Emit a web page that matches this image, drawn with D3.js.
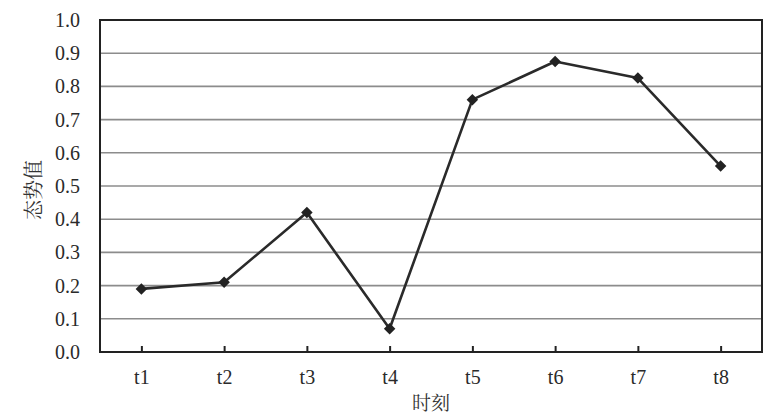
<!DOCTYPE html>
<html><head><meta charset="utf-8">
<script src="https://cdn.jsdelivr.net/npm/d3@7"></script>
<style>body{margin:0;background:#fff}</style>
</head><body><svg id="c" width="776" height="420"></svg>
<script>
const categories = ["t1","t2","t3","t4","t5","t6","t7","t8"];
const values = [0.19,0.21,0.42,0.07,0.76,0.875,0.825,0.56];
const yTicks = [0,0.1,0.2,0.3,0.4,0.5,0.6,0.7,0.8,0.9,1.0];
const xTitle = "时刻", yTitle = "态势值";

const svg = d3.select("#c");
const L=100,R=762,T=20,B=352;
const x = d3.scalePoint().domain(categories).range([L,R]).padding(0.5);
const y = d3.scaleLinear().domain([0,1]).range([B,T]);
const SERIF = "Liberation Serif";
const CJK = "Noto Serif CJK SC";

svg.append("g").selectAll("line").data(yTicks.filter(d=>d>0&&d<1)).join("line")
  .attr("x1",L).attr("x2",R).attr("y1",d=>y(d)).attr("y2",d=>y(d))
  .attr("stroke","#8c8c8c").attr("stroke-width",1.6);

svg.append("rect").attr("x",L).attr("y",T).attr("width",R-L).attr("height",B-T)
  .attr("fill","none").attr("stroke","#222").attr("stroke-width",2);

const yAxis = svg.append("g").attr("transform",`translate(${L},0)`)
  .call(d3.axisLeft(y).tickValues(yTicks).tickFormat(d3.format(".1f")).tickSize(0).tickPadding(20));
yAxis.attr("font-family",SERIF).attr("font-size",20);
yAxis.select(".domain").remove();
yAxis.selectAll("text").attr("font-family",SERIF).attr("font-size",20).attr("fill","#2a2a2a");

const xAxis = svg.append("g").attr("transform",`translate(0,${B})`)
  .call(d3.axisBottom(x).tickSizeInner(-6).tickSizeOuter(0).tickPadding(18));
xAxis.attr("font-family",SERIF).attr("font-size",20);
xAxis.select(".domain").remove();
xAxis.selectAll(".tick line").attr("stroke","#222").attr("stroke-width",2);
xAxis.selectAll("text").attr("font-family",SERIF).attr("font-size",20).attr("fill","#2a2a2a");

const line = d3.line().x((d,i)=>x(categories[i])).y(d=>y(d));
svg.append("path").datum(values).attr("d",line).attr("fill","none")
  .attr("stroke","#2a2a2a").attr("stroke-width",2.6).attr("stroke-linejoin","round");
svg.append("g").selectAll("path").data(values).join("path")
  .attr("d",d3.symbol(d3.symbolDiamond2,85)())
  .attr("transform",(d,i)=>`translate(${x(categories[i])},${y(d)})`)
  .attr("fill","#222");

svg.append("text").attr("x",(L+R)/2).attr("y",410).attr("text-anchor","middle")
  .attr("font-family",CJK).attr("font-size",19).attr("fill","#333").text(xTitle);
svg.append("text").attr("transform",`translate(41,${(T+B)/2+4}) rotate(-90)`).attr("text-anchor","middle")
  .attr("font-family",CJK).attr("font-size",20).attr("fill","#333").text(yTitle);
</script></body></html>
